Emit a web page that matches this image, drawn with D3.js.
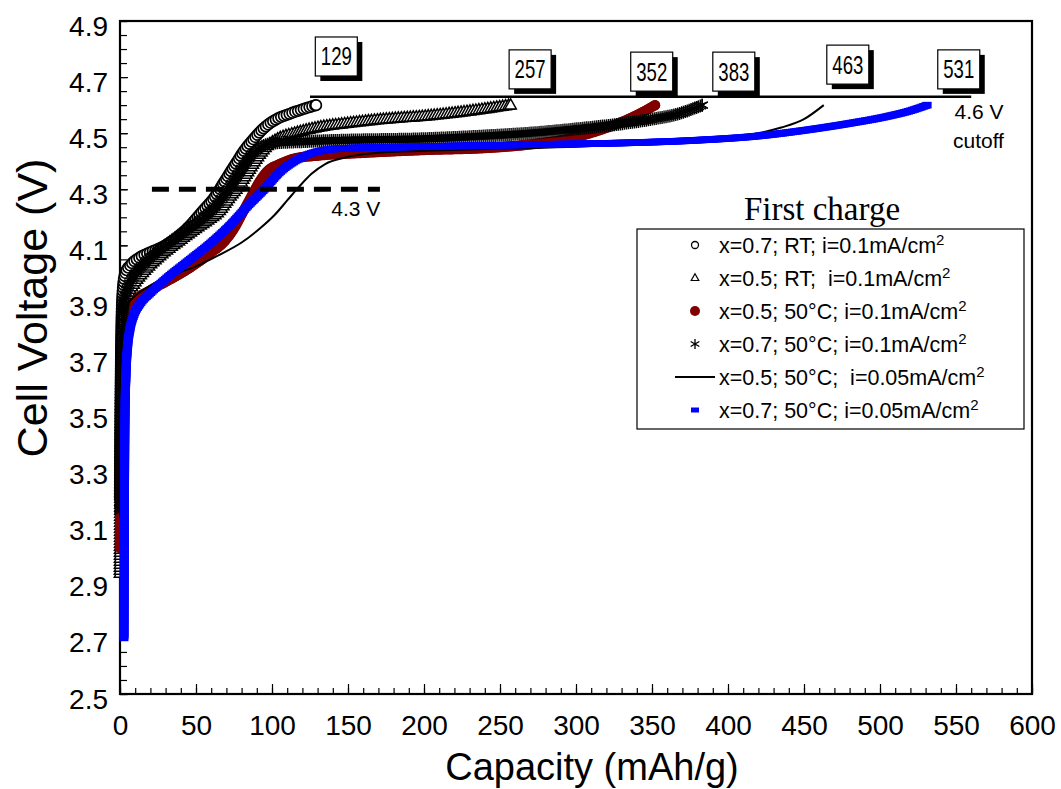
<!DOCTYPE html>
<html>
<head>
<meta charset="utf-8">
<script src="https://cdn.jsdelivr.net/npm/d3@7"></script>
<style>
body { margin: 0; background: #fff; }
svg text { font-family: "Liberation Sans", Arial, Helvetica, sans-serif; fill: #000; white-space: pre; }
</style>
</head>
<body>
<svg id="chart" width="1061" height="789"></svg>
<script>
'use strict'

// [capacity mAh/g, voltage V]
const rt07 = [[0, 3.2], [0.5, 3.6], [1, 3.82], [2, 3.95], [3.5, 4.0], [7, 4.03], [14, 4.06], [22, 4.08], [30, 4.1], [38, 4.13], [46, 4.17], [54, 4.22], [62, 4.27], [69, 4.33], [76, 4.39], [82, 4.44], [88, 4.48], [95, 4.52], [103, 4.55], [112, 4.57], [120, 4.585], [129, 4.6]]
const rt05 = [[0, 2.93], [0.3, 3.2], [0.7, 3.5], [1.2, 3.7], [2.5, 3.85], [5, 3.92], [9, 3.96], [18, 4.02], [28, 4.07], [40, 4.12], [50, 4.16], [58, 4.19], [65, 4.22], [72, 4.27], [78, 4.31], [84, 4.36], [90, 4.41], [96, 4.45], [104, 4.48], [115, 4.5], [130, 4.52], [150, 4.535], [175, 4.55], [200, 4.56], [225, 4.575], [245, 4.59], [257, 4.6]]
const hot05 = [[0, 3.02], [0.5, 3.3], [1, 3.55], [2, 3.7], [3.5, 3.8], [6, 3.86], [10, 3.9], [20, 3.94], [30, 3.97], [40, 4.0], [50, 4.035], [60, 4.075], [68, 4.11], [75, 4.16], [81, 4.22], [86, 4.27], [91, 4.32], [97, 4.365], [105, 4.39], [115, 4.41], [130, 4.42], [160, 4.43], [200, 4.44], [240, 4.447], [270, 4.46], [295, 4.48], [315, 4.51], [330, 4.54], [342, 4.57], [352, 4.6]]
const hot07 = [[0, 3.15], [0.4, 3.5], [1, 3.75], [2, 3.87], [4, 3.93], [8, 3.98], [15, 4.03], [25, 4.08], [35, 4.12], [45, 4.16], [55, 4.2], [63, 4.24], [70, 4.29], [76, 4.34], [82, 4.39], [88, 4.43], [94, 4.455], [102, 4.465], [120, 4.47], [150, 4.475], [200, 4.48], [240, 4.49], [270, 4.5], [300, 4.515], [325, 4.53], [350, 4.55], [368, 4.57], [383, 4.6]]
const slow05 = [[0, 3.2], [0.5, 3.5], [1, 3.7], [2, 3.82], [4, 3.88], [8, 3.91], [15, 3.94], [25, 3.97], [35, 3.995], [50, 4.025], [65, 4.065], [80, 4.11], [92, 4.16], [102, 4.21], [110, 4.26], [118, 4.31], [126, 4.355], [135, 4.39], [148, 4.413], [170, 4.43], [200, 4.437], [250, 4.445], [300, 4.452], [350, 4.465], [390, 4.48], [415, 4.495], [435, 4.52], [450, 4.55], [463, 4.6]]
const slow07 = [[2.6, 2.7], [2.8, 3.0], [3, 3.3], [3.3, 3.5], [4, 3.65], [5, 3.74], [6.5, 3.8], [9, 3.85], [13, 3.89], [20, 3.93], [30, 3.98], [45, 4.045], [60, 4.11], [72, 4.17], [84, 4.24], [95, 4.3], [105, 4.36], [115, 4.4], [127, 4.43], [145, 4.445], [180, 4.45], [230, 4.455], [280, 4.46], [330, 4.465], [380, 4.475], [420, 4.49], [450, 4.51], [480, 4.535], [505, 4.56], [520, 4.58], [531, 4.6]]

const legendLabels = [
    'x=0.7; RT; i=0.1mA/cm',
    'x=0.5; RT;  i=0.1mA/cm',
    'x=0.5; 50°C; i=0.1mA/cm',
    'x=0.7; 50°C; i=0.1mA/cm',
    'x=0.5; 50°C;  i=0.05mA/cm',
    'x=0.7; 50°C; i=0.05mA/cm'
]
const endCaps = [129, 257, 352, 383, 463, 531]
const capTicks = [0, 50, 100, 150, 200, 250, 300, 350, 400, 450, 500, 550, 600]
const voltTicks = [2.5, 2.7, 2.9, 3.1, 3.3, 3.5, 3.7, 3.9, 4.1, 4.3, 4.5, 4.7, 4.9]

// where the capacity boxes sit (left edge cap, top edge volt)
const boxAt = [[128.5, 4.843], [256, 4.797], [336, 4.789], [390, 4.789], [465, 4.814], [538, 4.797]]

const margin = { top: 21, left: 120 }
const width = 912
const height = 673

const svg = d3.select('#chart')
const g = svg.append('g').attr('transform', `translate(${margin.left},${margin.top})`)

const x = d3.scaleLinear().domain([0, 600]).range([0, width])
const y = d3.scaleLinear().domain([2.5, 4.9]).range([height, 0])

// axes, ticks inward
const minorCap = d3.range(0, 601, 10)
const minorVolt = d3.range(0, 49).map(i => 2.5 + i * 0.05)

g.append('g')
    .attr('transform', `translate(0,${height})`)
    .call(d3.axisBottom(x).tickValues(minorCap).tickSize(-6).tickSizeOuter(0).tickFormat(''))
g.append('g')
    .attr('class', 'xmajor')
    .attr('transform', `translate(0,${height})`)
    .call(d3.axisBottom(x).tickValues(capTicks).tickSize(-10).tickSizeOuter(0).tickPadding(18).tickFormat(d3.format('d')))
g.append('g')
    .call(d3.axisLeft(y).tickValues(minorVolt).tickSize(-7).tickSizeOuter(0).tickFormat(''))
g.append('g')
    .attr('class', 'ymajor')
    .call(d3.axisLeft(y).tickValues(voltTicks).tickSize(-8).tickSizeOuter(0).tickPadding(12).tickFormat(d3.format('.1f')))

g.selectAll('.tick line').attr('stroke', '#000').attr('stroke-width', 1.2)
g.selectAll('.domain').remove()
g.selectAll('.xmajor text').attr('font-size', 28).attr('dy', '0.71em').attr('y', 21)
g.selectAll('.ymajor text').attr('font-size', 28).attr('dy', '0.5em')
g.selectAll('.tick text').attr('font-family', '"Liberation Sans", Arial, sans-serif')

// frame
g.append('rect')
    .attr('width', width).attr('height', height)
    .attr('fill', 'none').attr('stroke', '#000').attr('stroke-width', 2.2)

svg.append('text')
    .attr('transform', 'translate(47,308) rotate(-90)')
    .attr('text-anchor', 'middle')
    .attr('font-size', 43)
    .text('Cell Voltage (V)')
svg.append('text')
    .attr('x', 592).attr('y', 780)
    .attr('text-anchor', 'middle')
    .attr('font-size', 38)
    .text('Capacity (mAh/g)')

// curves
const clip = svg.append('clipPath').attr('id', 'plotclip')
clip.append('rect').attr('x', -7).attr('width', width + 7).attr('height', height)
const plot = g.append('g').attr('clip-path', 'url(#plotclip)')

const line = d3.line()
    .x(d => x(d[0]))
    .y(d => y(d[1]))
    .curve(d3.curveMonotoneX)

const circlePath = r => `M${-r},0a${r},${r} 0 1,0 ${2 * r},0a${r},${r} 0 1,0 ${-2 * r},0`
const triPath = s => `M0,${-s}L${s * 0.9},${s * 0.6}L${-s * 0.9},${s * 0.6}Z`
const starPath = s => {
    let a = s * 0.866, b = s * 0.5
    return `M0,${-s}L0,${s}M${-a},${-b}L${a},${b}M${-a},${b}L${a},${-b}`
}

// drop a marker every `step` px along the curve drawn by the series
function markers(pts, step, draw) {
    let p = plot.append('path').attr('d', line(pts)).attr('fill', 'none').attr('stroke', 'none')
    let node = p.node()
    let len = node.getTotalLength()
    let grp = plot.append('g')
    for (let s = 0; s <= len; s += step) {
        let q = node.getPointAtLength(s)
        draw(grp, q.x, q.y)
    }
    let end = node.getPointAtLength(len)
    draw(grp, end.x, end.y)
}

const mk = {
    circle: (sel, px, py) => sel.append('path').attr('d', circlePath(5.3)).attr('transform', `translate(${px},${py})`)
        .attr('fill', '#fff').attr('stroke', '#000').attr('stroke-width', 1.7),
    tri: (sel, px, py) => sel.append('path').attr('d', triPath(6.3)).attr('transform', `translate(${px},${py})`)
        .attr('fill', '#fff').attr('stroke', '#000').attr('stroke-width', 1.5),
    dot: (sel, px, py) => sel.append('circle').attr('cx', px).attr('cy', py).attr('r', 5.2).attr('fill', '#800000'),
    star: (sel, px, py) => sel.append('path').attr('d', starPath(6.5)).attr('transform', `translate(${px},${py})`)
        .attr('fill', 'none').attr('stroke', '#000').attr('stroke-width', 1.4),
    dash: (sel, px, py) => sel.append('rect').attr('x', px - 4.5).attr('y', py - 3.3).attr('width', 9).attr('height', 6.6).attr('fill', '#0000ff')
}

markers(rt07, 3, mk.circle)
markers(rt05, 3, mk.tri)
markers(hot05, 2, mk.dot)
markers(hot07, 2, mk.star)
plot.append('path').attr('d', line(slow05)).attr('fill', 'none').attr('stroke', '#000').attr('stroke-width', 2)
markers(slow07, 2, mk.dash)

// 4.3 V dashed guide
g.append('line')
    .attr('x1', x(21)).attr('x2', x(171))
    .attr('y1', y(4.3)).attr('y2', y(4.3))
    .attr('stroke', '#000').attr('stroke-width', 5).attr('stroke-dasharray', '17 10')
g.append('text').attr('x', x(139)).attr('y', y(4.3) + 27).attr('font-size', 21).text('4.3 V')

// cutoff line and label
g.append('line')
    .attr('x1', x(125)).attr('x2', x(560))
    .attr('y1', y(4.63)).attr('y2', y(4.63))
    .attr('stroke', '#000').attr('stroke-width', 2.5)
g.append('text').attr('x', x(549)).attr('y', y(4.6) + 14).attr('font-size', 21).text('4.6 V')
g.append('text').attr('x', x(548)).attr('y', y(4.6) + 43).attr('font-size', 21).text('cutoff')

// capacity boxes
const bw = 42, bh = 39
endCaps.forEach((c, i) => {
    let bx = x(boxAt[i][0]), by = y(boxAt[i][1])
    g.append('rect').attr('x', bx + 5).attr('y', by + 5).attr('width', bw).attr('height', bh).attr('fill', '#000')
    g.append('rect').attr('x', bx).attr('y', by).attr('width', bw).attr('height', bh)
        .attr('fill', '#fff').attr('stroke', '#000').attr('stroke-width', 1.2)
    g.append('text').attr('x', bx + bw / 2).attr('y', by + bh / 2 + 9)
        .attr('text-anchor', 'middle').attr('font-size', 25)
        .attr('textLength', 31).attr('lengthAdjust', 'spacingAndGlyphs')
        .text(c)
})

// legend
svg.append('text')
    .attr('x', 822).attr('y', 220)
    .attr('text-anchor', 'middle')
    .attr('font-size', 33)
    .style('font-family', '"Liberation Serif", "Times New Roman", serif')
    .text('First charge')

const leg = svg.append('g')
leg.append('rect').attr('x', 637).attr('y', 229).attr('width', 387).attr('height', 200)
    .attr('fill', '#fff').attr('stroke', '#000').attr('stroke-width', 1.2)
const mx = 695
legendLabels.forEach((t, i) => {
    let ry = 245 + i * 33
    if (i === 0) leg.append('path').attr('d', circlePath(3.5)).attr('transform', `translate(${mx},${ry})`).attr('fill', '#fff').attr('stroke', '#000').attr('stroke-width', 1.3)
    else if (i === 1) leg.append('path').attr('d', triPath(4.2)).attr('transform', `translate(${mx},${ry})`).attr('fill', '#fff').attr('stroke', '#000').attr('stroke-width', 1.2)
    else if (i === 2) leg.append('circle').attr('cx', mx).attr('cy', ry).attr('r', 5).attr('fill', '#800000')
    else if (i === 3) leg.append('path').attr('d', starPath(5)).attr('transform', `translate(${mx},${ry})`).attr('fill', 'none').attr('stroke', '#000').attr('stroke-width', 1.3)
    else if (i === 4) leg.append('line').attr('x1', mx - 20).attr('x2', mx + 20).attr('y1', ry).attr('y2', ry).attr('stroke', '#000').attr('stroke-width', 2)
    else leg.append('rect').attr('x', mx - 4).attr('y', ry - 2.5).attr('width', 8).attr('height', 5).attr('fill', '#0000ff')
    let tx = leg.append('text').attr('x', 719).attr('y', ry + 8).attr('font-size', 21.5)
    tx.append('tspan').text(t)
    tx.append('tspan').attr('dy', -8).attr('font-size', 15).text('2')
})
</script>
</body>
</html>
